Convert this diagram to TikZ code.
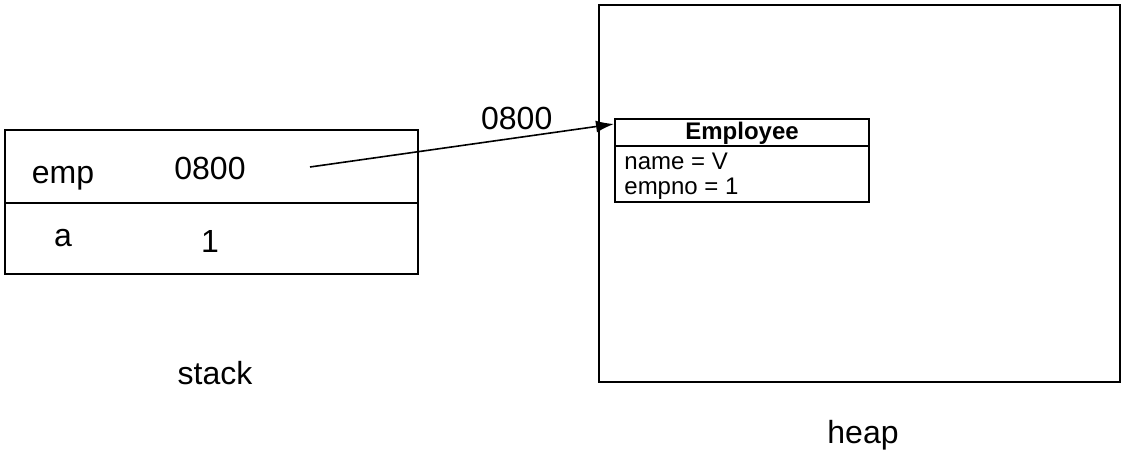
\documentclass[tikz,border=0pt]{standalone}
\usepackage{fontspec}
\setmainfont{Liberation Sans}
\usetikzlibrary{arrows.meta,positioning,calc}

\begin{document}
\begin{tikzpicture}[
    x=0.5pt, y=-0.5pt,
    box/.style={rectangle, draw, line width=1pt, inner sep=0pt},
    cell/.style={font=\fontsize{16}{19}\selectfont},
    field/.style={font=\fontsize{12}{14}\selectfont, anchor=west, inner sep=0pt},
    arrow/.style={-{Latex[length=9pt,width=6pt]}, line width=0.8pt},
]
    \useasboundingbox (0,0) rectangle (1124,460);

    % stack frame
    \node[box, minimum width=206.5pt, minimum height=72pt] (stack) at (211.5,202) {};
    \draw[line width=1pt] (stack.west |- 0,203) -- (stack.east |- 0,203);
    \node[cell] (empname) at (63,178) {emp};
    \node[cell] (empval) at (210,168) {0800};
    \node[cell] (aname) at (63,238) {a};
    \node[cell] (aval) at (210,241) {1};
    \node[cell] (stacklabel) at (215,373) {stack};

    % heap
    \node[box, minimum width=260.5pt, minimum height=188.5pt] (heap) at (859.5,193.5) {};
    \node[cell] (heaplabel) at (863,435) {heap};

    % object on the heap
    \node[box, minimum width=127pt, minimum height=41.5pt] (employee) at (742,160.5) {};
    \draw[line width=1pt] (employee.west |- 0,146) -- (employee.east |- 0,146);
    \node[font=\fontsize{12}{14}\selectfont\bfseries] (emptitle) at (742,133.5) {Employee};
    \node[field] (empfname) at (624,161) {name = V};
    \node[field] (empfno) at (624,189) {empno = 1};

    % reference
    \coordinate (ptr) at (310,167);
    \draw[arrow] (ptr) -- node[cell, above, pos=0.68] {0800} ([yshift=-3pt]employee.north west);
\end{tikzpicture}
\end{document}
